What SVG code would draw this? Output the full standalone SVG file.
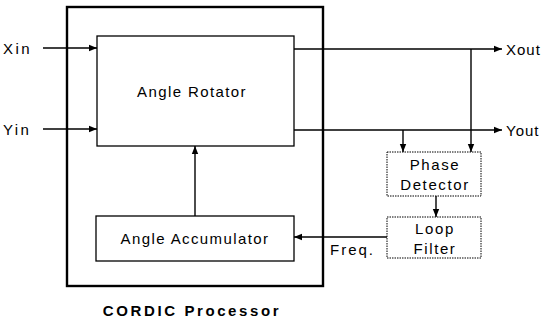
<svg xmlns="http://www.w3.org/2000/svg" width="543" height="323" viewBox="0 0 543 323">
<defs>
<marker id="ah" viewBox="0 0 10 10" refX="10" refY="5" markerWidth="8" markerHeight="8" markerUnits="userSpaceOnUse" orient="auto"><path d="M0,1 L10,5 L0,9 Z" fill="#000"/></marker>
</defs>
<style>
text{font-family:"Liberation Sans",Arial,sans-serif;font-size:15px;fill:#000;letter-spacing:1.6px}
.b{fill:#fff;stroke:#000;stroke-width:1.3}
.d{fill:#fff;stroke:#000;stroke-width:1;stroke-dasharray:1.5 1}
.c{fill:none;stroke:#000;stroke-width:1.4}
</style>
<g id="cordic"><rect x="67" y="7" width="256" height="279" fill="none" stroke="#000" stroke-width="2.4"/>
<text x="192" y="316" text-anchor="middle" style="font-weight:bold;letter-spacing:2.6px">CORDIC Processor</text></g>
<g id="rotator"><rect class="b" x="97" y="36" width="197" height="110"/><text x="192" y="97" text-anchor="middle" style="letter-spacing:1.4px">Angle Rotator</text></g>
<g id="accumulator"><rect class="b" x="96" y="216" width="198" height="45"/><text x="195" y="244" text-anchor="middle" style="letter-spacing:1.4px">Angle Accumulator</text></g>
<g id="phase"><rect class="d" x="387" y="152" width="94" height="44"/><text x="435" y="170" text-anchor="middle">Phase</text><text x="435" y="190" text-anchor="middle">Detector</text></g>
<g id="loop"><rect class="d" x="387" y="217" width="94" height="41"/><text x="435" y="234" text-anchor="middle">Loop</text><text x="435" y="254" text-anchor="middle">Filter</text></g>
<g id="labels"><text x="3" y="54" style="letter-spacing:2.4px">Xin</text><text x="3" y="135" style="letter-spacing:2.4px">Yin</text><text x="506" y="55" style="letter-spacing:1px">Xout</text><text x="506" y="136" style="letter-spacing:1px">Yout</text><text x="330" y="255" style="letter-spacing:2px">Freq.</text></g>
<g id="connectors">
<path class="c" d="M43,48 H97" marker-end="url(#ah)"/>
<path class="c" d="M43,129 H97" marker-end="url(#ah)"/>
<path class="c" d="M294,49 H502" marker-end="url(#ah)"/>
<path class="c" d="M294,130 H502" marker-end="url(#ah)"/>
<path class="c" d="M471,49 V152" marker-end="url(#ah)"/>
<path class="c" d="M403,130 V152" marker-end="url(#ah)"/>
<path class="c" d="M436,196 V217" marker-end="url(#ah)"/>
<path class="c" d="M387,237 H294" marker-end="url(#ah)"/>
<path class="c" d="M195,216 V146" marker-end="url(#ah)"/>
</g>
</svg>
